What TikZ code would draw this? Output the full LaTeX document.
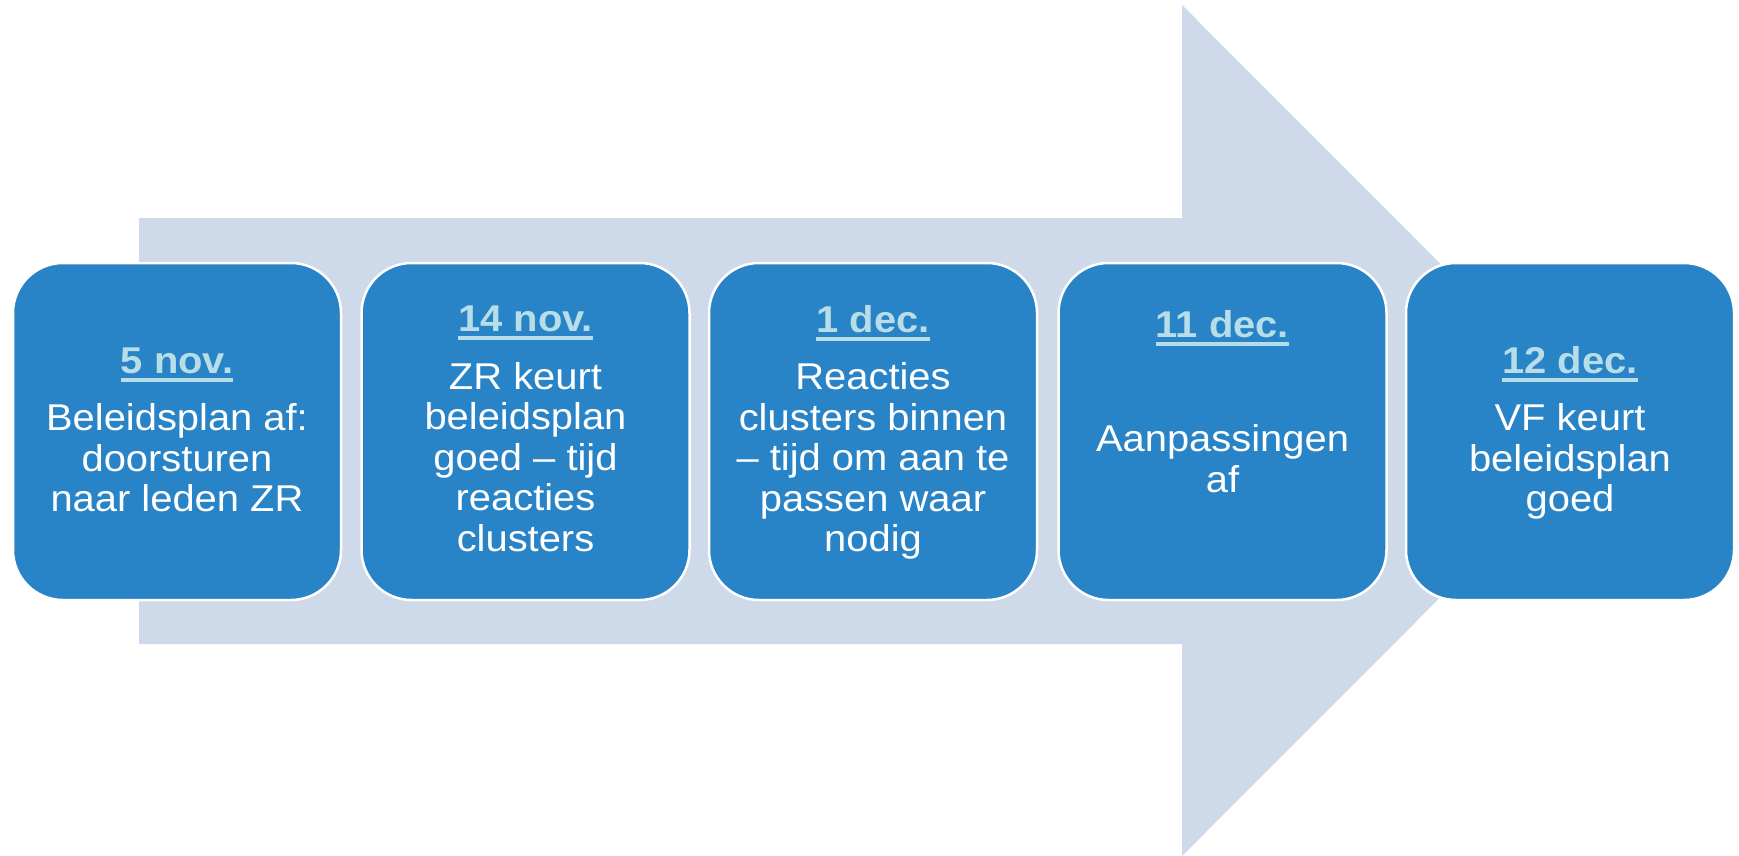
\documentclass[tikz,border=0pt]{standalone}
\usepackage{fontspec}
\setmainfont{Liberation Sans}
\usepackage{graphicx}
\definecolor{arrowcol}{HTML}{CED9EA}
\definecolor{boxcol}{HTML}{2884C6}
\definecolor{datecol}{HTML}{B7DEE8}
\newcommand\datefmt[1]{\textcolor{datecol}{\bfseries\setbox0\hbox{#1}\rlap{\rule[-8.4pt]{\wd0}{4pt}}\box0}}
\newcommand\boxtext[1]{\scalebox{1.07}[1]{\begin{tabular}[t]{@{}c@{}}#1\end{tabular}}}
\tikzset{
  stepbox/.style={draw=white, line width=2.5pt, fill=boxcol, rounded corners=50pt,
    minimum width=328pt, minimum height=337pt, inner sep=0pt},
  txt/.style={text=white, inner sep=0pt, anchor=base, font=\fontsize{37.3}{40.5}\selectfont}
}
\begin{document}
\begin{tikzpicture}[x=1pt,y=-1pt]
\useasboundingbox (0,0) rectangle (1739,856);
% big background arrow
\fill[arrowcol] (139,218) -- (1182,218) -- (1182,5) -- (1607,430.5) -- (1182,856) -- (1182,644) -- (139,644) -- cycle;
% boxes
\node[stepbox] (b1) at (177,431.5) {};
\node[stepbox] (b2) at (525.5,431.5) {};
\node[stepbox] (b3) at (873,431.5) {};
\node[stepbox] (b4) at (1222.5,431.5) {};
\node[stepbox] (b5) at (1570,431.5) {};
% texts
\node[txt] (t1) at (177,373.3) {\boxtext{\datefmt{5 nov.}\\[17pt] Beleidsplan af:\\ doorsturen\\ naar leden ZR}};
\node[txt] (t2) at (525.5,331.8) {\boxtext{\datefmt{14 nov.}\\[17pt] ZR keurt\\ beleidsplan\\ goed – tijd\\ reacties\\ clusters}};
\node[txt] (t3) at (873,332.3) {\boxtext{\datefmt{1 dec.}\\[17pt] Reacties\\ clusters binnen\\ – tijd om aan te\\ passen waar\\ nodig}};
\node[txt] (t4) at (1222.5,337.3) {\boxtext{\datefmt{11 dec.}\\[73.9pt] Aanpassingen\\ af}};
\node[txt] (t5) at (1570,373.3) {\boxtext{\datefmt{12 dec.}\\[17pt] VF keurt\\ beleidsplan\\ goed}};
\end{tikzpicture}
\end{document}
